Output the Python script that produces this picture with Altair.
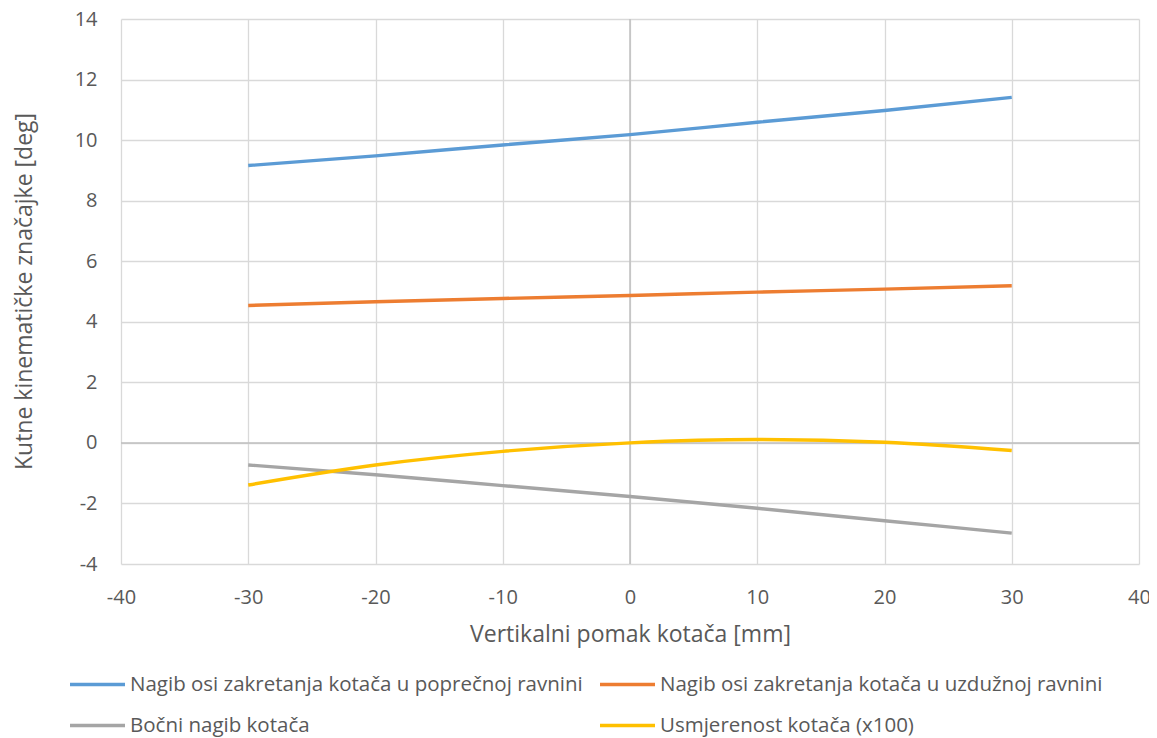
import altair as alt
import pandas as pd

# Data
x_vals = [-30, -20, -10, 0, 10, 20, 30]
nagib_poprecni = [9.16, 9.48, 9.84, 10.18, 10.59, 10.98, 11.41]
nagib_uzduzni = [4.54, 4.66, 4.77, 4.87, 4.98, 5.08, 5.19]
bocni_nagib = [-0.73, -1.05, -1.41, -1.77, -2.16, -2.57, -2.98]
usmjerenost = [-1.39, -0.73, -0.28, 0.0, 0.11, 0.02, -0.25]

series_names = [
    "Nagib osi zakretanja kotača u poprečnoj ravnini",
    "Nagib osi zakretanja kotača u uzdužnoj ravnini",
    "Bočni nagib kotača",
    "Usmjerenost kotača (x100)",
]
series_values = [nagib_poprecni, nagib_uzduzni, bocni_nagib, usmjerenost]
colors = ["#5B9BD5", "#ED7D31", "#A5A5A5", "#FFC000"]

y_ticks = [-4, -2, 0, 2, 4, 6, 8, 10, 12, 14]
x_ticks = [-40, -30, -20, -10, 0, 10, 20, 30, 40]

rows = []
for name, vals in zip(series_names, series_values):
    for i, (xv, yv) in enumerate(zip(x_vals, vals)):
        rows.append({"x": xv, "y": yv, "serija": name, "order": i})
df = pd.DataFrame(rows)

FONT = "Open Sans"
TXT = "#595959"

x_scale = alt.Scale(domain=[-40, 40], nice=False, zero=False)
y_scale = alt.Scale(domain=[-4, 14], nice=False, zero=False)

lines = alt.Chart(df).mark_line(strokeWidth=3.4, interpolate="monotone").encode(
    x=alt.X(
        "x:Q",
        scale=x_scale,
        axis=alt.Axis(
            values=x_ticks,
            labelExpr="datum.value + ''",
            labelFlush=False,
            title="Vertikalni pomak kotača [mm]",
            titleFontSize=23,
            titleFontWeight="normal",
            titleColor=TXT,
            titleFont=FONT,
            titlePadding=16,
            labelFontSize=20,
            labelColor=TXT,
            labelFont=FONT,
            labelPadding=23,
            ticks=False,
            domain=False,
            gridColor="#D9D9D9",
            gridWidth=1.3,
        ),
    ),
    y=alt.Y(
        "y:Q",
        scale=y_scale,
        axis=alt.Axis(
            values=y_ticks,
            labelExpr="datum.value + ''",
            labelFlush=False,
            title="Kutne kinematičke značajke [deg]",
            titleFontSize=23,
            titleFontWeight="normal",
            titleColor=TXT,
            titleFont=FONT,
            titleX=-97,
            titleY=272,
            titleAngle=-90,
            titleAlign="center",
            titleBaseline="middle",
            labelFontSize=20,
            labelColor=TXT,
            labelFont=FONT,
            labelPadding=24,
            ticks=False,
            domain=False,
            gridColor="#D9D9D9",
            gridWidth=1.3,
        ),
    ),
    color=alt.Color(
        "serija:N",
        scale=alt.Scale(domain=series_names, range=colors),
        sort=series_names,
        legend=alt.Legend(
            title=None,
            orient="none",
            direction="horizontal",
            legendX=-53,
            legendY=636,
            columns=2,
            symbolType="stroke",
            symbolSize=3025,
            symbolStrokeWidth=3.5,
            labelFontSize=20.5,
            labelFont=FONT,
            labelColor=TXT,
            labelLimit=700,
            labelOffset=3,
            columnPadding=10,
            rowPadding=1,
        ),
    ),
    order="order:Q",
)

zero_data = pd.DataFrame({"v": [0]})
zero_h = alt.Chart(zero_data).mark_rule(color="#BFBFBF", strokeWidth=1.5).encode(
    y=alt.Y("v:Q", scale=y_scale)
)
zero_v = alt.Chart(zero_data).mark_rule(color="#BFBFBF", strokeWidth=1.5).encode(
    x=alt.X("v:Q", scale=x_scale)
)

chart = (
    alt.layer(zero_h, zero_v, lines)
    .properties(
        width=1018,
        height=545,
        autosize=alt.AutoSizeParams(type="none"),
        padding={"left": 113, "top": 11, "right": 10, "bottom": 176},
        background="white",
    )
    .configure_view(stroke=None)
)

chart.save("out.html", embed_options={"renderer": "svg", "actions": False})
